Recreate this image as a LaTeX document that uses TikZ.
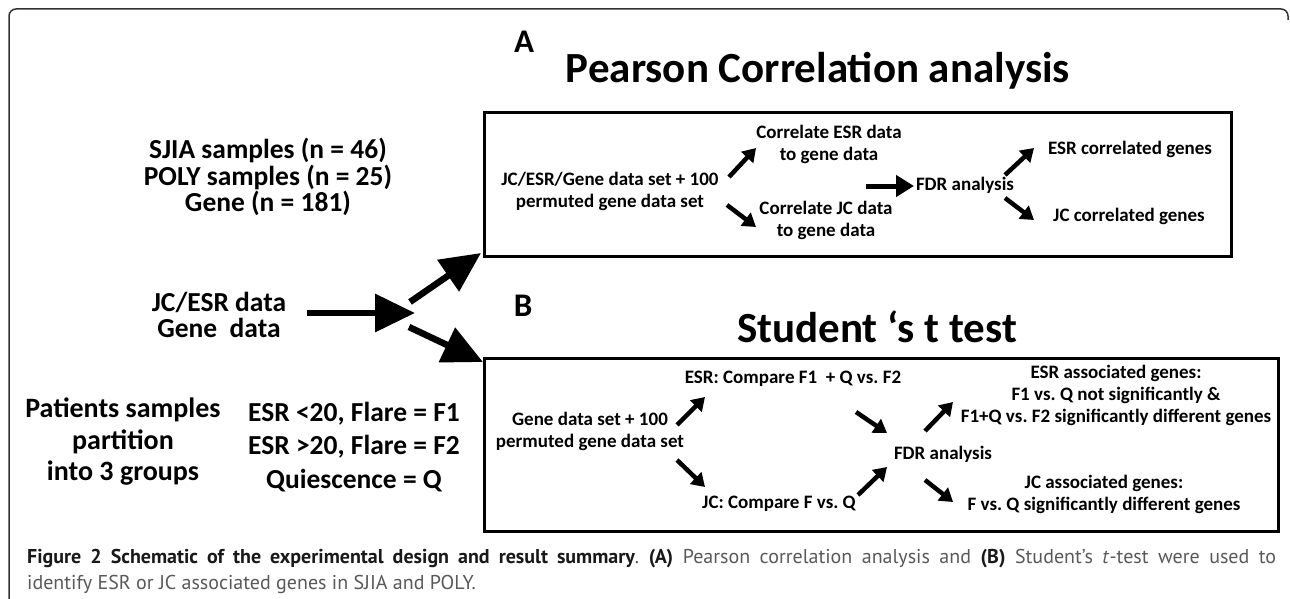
\documentclass[tikz,border=0pt]{standalone}
\usepackage{fontspec}
\setmainfont{Carlito}
\newfontfamily\capfont{PT Sans}
\usetikzlibrary{arrows.meta}
\frenchspacing
\begin{document}
\begin{tikzpicture}[x=1pt,y=-1pt,
 lbl/.style={font=\bfseries\fontsize{19}{22}\selectfont, align=center, inner sep=0pt},
 side/.style={font=\bfseries\fontsize{27.5}{26.5}\selectfont, align=center, inner sep=0pt},
 ttl/.style={font=\bfseries\fontsize{43}{46}\selectfont, inner sep=0pt, anchor=base},
 letter/.style={font=\bfseries\fontsize{33}{36}\selectfont, inner sep=0pt, anchor=base},
 panel/.style={draw, line width=3pt},
 sarr/.style={line width=4.5pt, -{Triangle[length=13pt,width=16pt]}},
 marr/.style={line width=5pt, -{Triangle[length=18pt,width=21pt]}},
 barr/.style={line width=6.5pt, -{Triangle[length=40pt,width=37pt]}},
 captxt/.style={anchor=base west, inner sep=0pt, font=\capfont\fontsize{20}{24}\selectfont, text=black!65},
]
\useasboundingbox (0,0) rectangle (1290,599);
\fill[white] (0,0) rectangle (1290,599);
% outer frame
\draw[line width=1.5pt, black!80, rounded corners=7pt] (9,600) -- (9,9) -- (1288,9) -- (1288,20);

% left texts
\node[side] (samples) at (268,177) {SJIA samples (n = 46)\\POLY samples (n = 25)\\Gene (n = 181)};
\node[side, font=\bfseries\fontsize{27.5}{26}\selectfont] (data) at (219,315) {JC/ESR data\\Gene~ data};
\node[side, font=\bfseries\fontsize{28}{31.5}\selectfont] (patients) at (123,442) {Patients samples\\partition\\into 3 groups};
\node[side, font=\bfseries\fontsize{27.5}{33.5}\selectfont] (groups) at (354,447) {ESR <20, Flare = F1\\ESR >20, Flare = F2\\Quiescence = Q};

% big arrows
\coordinate (hubs) at (307,313);
\coordinate (hub) at (415,313);
\coordinate (hubA) at (410,302);
\coordinate (hubB) at (409,327);
\coordinate (tipA) at (481,253);
\coordinate (tipB) at (483,362);
\draw[barr] (hubs) -- (hub);
\draw[barr] (hubA) -- (tipA);
\draw[barr] (hubB) -- (tipB);

% panel A
\node[letter] (la) at (524,53) {A};
\node[ttl] (tA) at (818,83) {Pearson Correlation analysis};
\draw[panel] (484,113) rectangle (1231,256);
\node[lbl] (inA) at (610,191) {JC/ESR/Gene data set + 100\\permuted gene data set};
\node[lbl] (cESR) at (829,144) {Correlate ESR data\\to gene data};
\node[lbl] (cJC) at (826,220) {Correlate JC data\\to gene data};
\node[lbl] (fdrA) at (965,185) {FDR analysis};
\node[lbl] (gESR) at (1130,149) {ESR correlated genes};
\node[lbl] (gJC) at (1129,216) {JC correlated genes};
\coordinate (a1s) at (729,177); \coordinate (a1e) at (756,148);
\coordinate (a2s) at (727,205); \coordinate (a2e) at (756,227);
\coordinate (a3s) at (866,186); \coordinate (a3e) at (914,186);
\coordinate (a4s) at (1005,175); \coordinate (a4e) at (1034,148);
\coordinate (a5s) at (1005,198); \coordinate (a5e) at (1034,220);
\draw[sarr] (a1s) -- (a1e);
\draw[sarr] (a2s) -- (a2e);
\draw[marr] (a3s) -- (a3e);
\draw[sarr] (a4s) -- (a4e);
\draw[sarr] (a5s) -- (a5e);

% panel B
\node[letter] (lb) at (523,316) {B};
\node[ttl] (tB) at (877,342) {Student {‘}s t test};
\draw[panel] (484,358) rectangle (1278,531);
\node[lbl] (inB) at (590,431) {Gene data set + 100\\permuted gene data set};
\node[lbl] (cmpE) at (793,379) {ESR: Compare F1 ~+ Q vs. F2};
\node[lbl] (cmpJ) at (779,504) {JC: Compare F vs. Q};
\node[lbl] (fdrB) at (943,454) {FDR analysis};
\node[lbl] (aESR) at (1116,395) {ESR associated genes:\\F1 vs. Q not significantly \&\\F1+Q vs. F2 significantly different genes};
\node[lbl] (aJC) at (1104,494) {JC associated genes:\\F vs. Q significantly different genes};
\coordinate (b1s) at (677,425); \coordinate (b1e) at (705,397);
\coordinate (b2s) at (677,460); \coordinate (b2e) at (705,487);
\coordinate (b3s) at (856,412); \coordinate (b3e) at (887,433);
\coordinate (b4s) at (858,495); \coordinate (b4e) at (887,467);
\coordinate (b5s) at (925,431); \coordinate (b5e) at (953,402);
\coordinate (b6s) at (925,480); \coordinate (b6e) at (953,502);
\draw[sarr] (b1s) -- (b1e);
\draw[sarr] (b2s) -- (b2e);
\draw[sarr] (b3s) -- (b3e);
\draw[sarr] (b4s) -- (b4e);
\draw[sarr] (b5s) -- (b5e);
\draw[sarr] (b6s) -- (b6e);

% caption
\node[captxt] (cap1) at (27,563)
 {\makebox[1249pt][s]{{\bfseries\color{black!90}Figure 2 Schematic of the experimental design and result summary}. {\bfseries\color{black!90}(A)} Pearson correlation analysis and {\bfseries\color{black!90}(B)} Student’s \textit{t}-test were used to}};
\node[captxt] (cap2) at (27,589) {identify ESR or JC associated genes in SJIA and POLY.};
\end{tikzpicture}
\end{document}
